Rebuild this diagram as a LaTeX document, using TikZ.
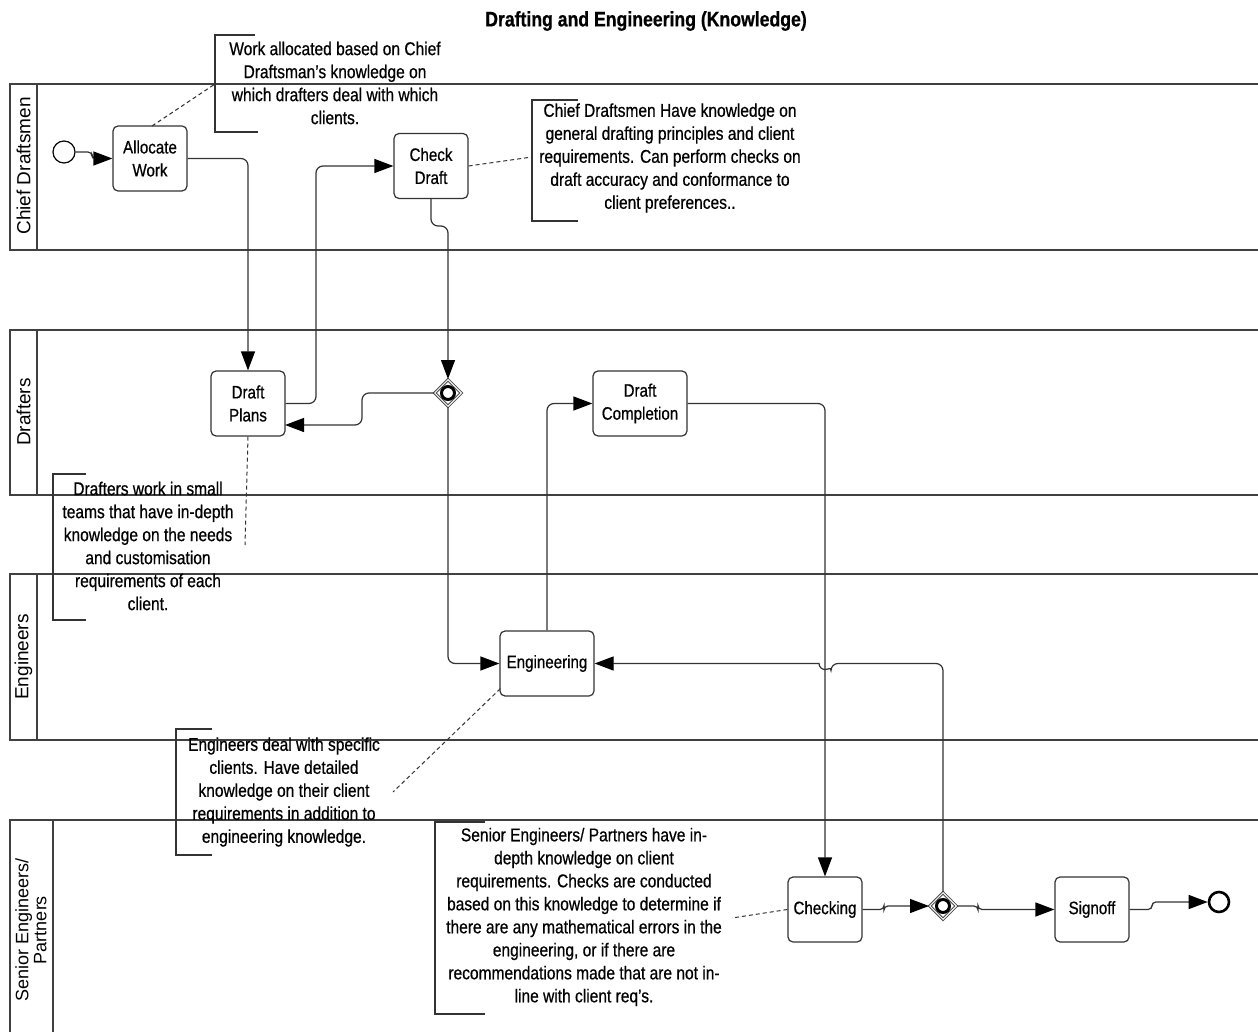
\documentclass[tikz,border=0pt]{standalone}
\usepackage{fontspec}
\setmainfont[FakeStretch=0.84,FakeBold=0.6]{Liberation Sans}
\newfontfamily\lanefont{Liberation Sans}
\usetikzlibrary{arrows.meta,shapes.geometric}
\begin{document}
\begin{tikzpicture}[x=1pt,y=-1pt,
  lane/.style={draw=black!75, line width=1.4pt},
  lanelabel/.style={rotate=90, font=\lanefont\fontsize{19}{19}\selectfont, align=center, inner sep=0},
  task/.style={draw=black!80, line width=1.2pt, rounded corners=5pt, fill=white,
    minimum width=74pt, minimum height=65pt, align=center, inner sep=0,
    font=\fontsize{18}{23}\selectfont},
  gate/.style={diamond, draw=black!70, line width=1pt, double=white, double distance=1pt, fill=white, minimum width=27pt, minimum height=27pt, inner sep=0},
  event/.style={circle, draw=black, minimum size=22pt, inner sep=0, fill=white},
  flow/.style={draw=black!80, line width=1.2pt, rounded corners=7pt, -{Triangle[length=19pt,width=14pt,color=black]}},
  assoc/.style={draw=black!80, line width=1pt, dash pattern=on 4pt off 3pt},
  anno/.style={draw=black!80, line width=1.2pt},
  annotext/.style={align=center, inner sep=0, font=\fontsize{18.5}{23}\selectfont},
]
\useasboundingbox (0,0) rectangle (1258,1032);
\fill[white] (0,0) rectangle (1258,1032);
\clip (0,0) rectangle (1258,1032);

% title
\node[font=\bfseries\fontsize{21}{24}\selectfont] (title) at (646,21) {Drafting and Engineering (Knowledge)};

% lanes
\draw[lane] (10,84) rectangle (1280,250); \draw[lane] (37,84) -- (37,250);
\node[lanelabel] (l1) at (23.5,166) {Chief Draftsmen};
\draw[lane] (10,330) rectangle (1280,495); \draw[lane] (37,330) -- (37,495);
\node[lanelabel] (l2) at (23.5,412) {Drafters};
\draw[lane] (10,574) rectangle (1280,740); \draw[lane] (37,574) -- (37,740);
\node[lanelabel] (l3) at (23.5,657) {Engineers};
\draw[lane] (10,820) rectangle (1280,1050); \draw[lane] (53,820) -- (53,1050);
\node[lanelabel, font=\lanefont\fontsize{18}{18}\selectfont] (l4) at (31,930) {Senior Engineers/\\Partners};

% annotations
\draw[anno] (255,35) -- (215,35) -- (215,132) -- (258,132);
\node[annotext] (a1) at (335,83) {Work allocated based on Chief\\Draftsman's knowledge on\\which drafters deal with which\\clients.};
\draw[anno] (578,100) -- (532,100) -- (532,221) -- (578,221);
\node[annotext] (a2) at (670,158) {Chief Draftsmen Have knowledge on\\general drafting principles and client\\requirements. Can perform checks on\\draft accuracy and conformance to\\client preferences..};
\draw[anno] (86,474) -- (53,474) -- (53,620) -- (86,620);
\node[annotext] (a3) at (148,546) {Drafters work in small\\teams that have in-depth\\knowledge on the needs\\and customisation\\requirements of each\\client.};
\draw[anno] (212,729) -- (176,729) -- (176,855) -- (212,855);
\node[annotext] (a4) at (284,792) {Engineers deal with specific\\clients. Have detailed\\knowledge on their client\\requirements in addition to\\engineering knowledge.};
\draw[anno] (485,822) -- (435,822) -- (435,1014) -- (485,1014);
\node[annotext] (a5) at (584,917) {Senior Engineers/ Partners have in-\\depth knowledge on client\\requirements. Checks are conducted\\based on this knowledge to determine if\\there are any mathematical errors in the\\engineering, or if there are\\recommendations made that are not in-\\line with client req's.};

% nodes
\node[event, line width=1.2pt] (start) at (64,152) {};
\node[task] (alloc) at (150,158.5) {Allocate\\Work};
\node[task] (check) at (431,166) {Check\\Draft};
\node[task] (plans) at (248,403.5) {Draft\\Plans};
\node[gate] (g1) at (448,393) {};
\draw[line width=3pt] (g1.center) circle (6.5pt);
\node[task, minimum width=94pt] (compl) at (640,403.5) {Draft\\Completion};
\node[task, minimum width=94pt] (eng) at (547,663.5) {Engineering};
\node[task] (chk) at (825,909.5) {Checking};
\node[gate] (g2) at (943,906) {};
\draw[line width=3pt] (g2.center) circle (6.5pt);
\node[task] (sign) at (1092,909.5) {Signoff};
\node[event, line width=2.6pt, minimum size=20pt] (end) at (1219,902) {};

% association lines
\coordinate (c1) at (215,84);
\coordinate (c2) at (532,157);
\coordinate (c3) at (245,545);
\coordinate (c4) at (393,792);
\coordinate (c5) at (732,918);
\draw[assoc] (152,126) -- (c1);
\draw[assoc] (check.east) -- (c2);
\draw[assoc] (plans.south) -- (c3);
\draw[assoc] (eng.south west) ++(1,-8) -- (c4);
\draw[assoc] (chk.west) -- (c5);

% sequence flows
\draw[flow, rounded corners=4pt] (start.east) -- (92,152) -- (92,158.5) -- (alloc.west);
\draw[flow] (alloc.east) -| (plans.north);
\draw[flow] (plans.east) -- (316,403.5) -- (316,166) -- (check.west);
\draw[flow] (check.south) -- (431,226) -- (448,226) -- (g1.north);
\draw[flow] (g1.west) -- (362,393) -- (362,425) -- (285,425);
\draw[flow] (g1.south) |- (eng.west);
\draw[flow] (eng.north) |- (compl.west);
\draw[flow] (compl.east) -| (chk.north);
\draw[flow] (g2.north) -- (943,663.5) -- (831,663.5) [sharp corners] arc[start angle=0, end angle=-180, radius=6pt] -- (eng.east);
\draw[flow, rounded corners=4pt] (chk.east) -- (884,909.5) -- (884,906) -- (g2.west);
\draw[flow, rounded corners=4pt] (g2.east) -- (978,906) -- (978,909.5) -- (sign.west);
\draw[flow, rounded corners=4pt] (sign.east) -- (1152,909.5) -- (1152,902) -- (end.west);
\end{tikzpicture}
\end{document}
